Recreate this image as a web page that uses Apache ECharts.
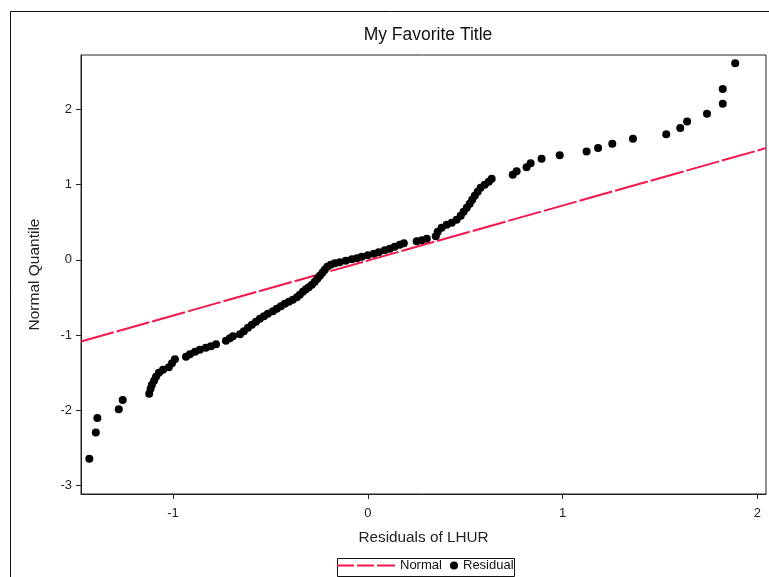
<!DOCTYPE html>
<html>
<head>
<meta charset="utf-8">
<title>My Favorite Title</title>
<script src="https://cdn.jsdelivr.net/npm/echarts@6/dist/echarts.min.js"></script>
<style>
  html, body { margin: 0; padding: 0; background: #fff; }
  #chart { width: 769px; height: 577px; }
</style>
</head>
<body>
<div id="chart"></div>
<script>
// Sorted residuals of LHUR (x) paired with their normal quantiles (y)
const residuals = [
  -1.429, -1.396, -1.388, -1.278, -1.258, -1.122, -1.115, -1.108, -1.097, -1.087,
  -1.072, -1.051, -1.021, -1.005, -0.990, -0.933, -0.913, -0.887, -0.862, -0.831,
  -0.805, -0.779, -0.728, -0.708, -0.692, -0.656, -0.636, -0.615, -0.595, -0.574,
  -0.554, -0.533, -0.513, -0.487, -0.467, -0.446, -0.426, -0.405, -0.385, -0.364,
  -0.349, -0.333, -0.318, -0.303, -0.287, -0.272, -0.259, -0.246, -0.233, -0.221,
  -0.208, -0.190, -0.169, -0.144, -0.113, -0.082, -0.056, -0.031, 0.000, 0.031,
  0.056, 0.087, 0.113, 0.138, 0.164, 0.185, 0.251, 0.277, 0.303, 0.349,
  0.359, 0.379, 0.405, 0.431, 0.456, 0.477, 0.492, 0.508, 0.523, 0.536,
  0.549, 0.564, 0.579, 0.600, 0.621, 0.636, 0.744, 0.764, 0.815, 0.836,
  0.892, 0.985, 1.123, 1.182, 1.255, 1.361, 1.532, 1.604, 1.639, 1.741,
  1.822, 1.822, 1.886
];
const quantiles = [
  -2.643, -2.293, -2.102, -1.983, -1.863, -1.780, -1.713, -1.660, -1.607, -1.554,
  -1.501, -1.461, -1.428, -1.374, -1.321, -1.288, -1.255, -1.222, -1.195, -1.169,
  -1.149, -1.122, -1.076, -1.042, -1.016, -0.989, -0.950, -0.903, -0.863, -0.823,
  -0.784, -0.750, -0.717, -0.684, -0.651, -0.618, -0.584, -0.558, -0.531, -0.498,
  -0.465, -0.425, -0.392, -0.365, -0.332, -0.292, -0.252, -0.212, -0.173, -0.133,
  -0.093, -0.066, -0.046, -0.033, -0.013, 0.007, 0.020, 0.040, 0.060, 0.080,
  0.100, 0.126, 0.146, 0.173, 0.199, 0.219, 0.246, 0.259, 0.279, 0.312,
  0.372, 0.425, 0.465, 0.491, 0.531, 0.584, 0.637, 0.691, 0.744, 0.797,
  0.850, 0.903, 0.956, 0.996, 1.036, 1.076, 1.129, 1.175, 1.228, 1.282,
  1.341, 1.390, 1.438, 1.485, 1.540, 1.607, 1.667, 1.749, 1.837, 1.939,
  2.072, 2.267, 2.612
];

// Fitted normal reference line, end to end across the plot
const normalX = [-1.472, 2.044];
const normalY = [-1.085, 1.483];

// Axis extents and tick positions
const xRange = [-1.472, 2.044];
const yRange = [-3.11, 2.72];
const xTicks = [-1, 0, 1, 2];
const yTicks = [-3, -2, -1, 0, 1, 2];

const FONT = '"Liberation Sans", Arial, sans-serif';
const RED = '#f5164c';
const INK = '#222';

const residualPoints = residuals.map((x, i) => [x, quantiles[i]]);
const normalPoints = normalX.map((x, i) => [x, normalY[i]]);

const chart = echarts.init(document.getElementById('chart'));
chart.setOption({
  animation: false,
  backgroundColor: '#fff',
  textStyle: { fontFamily: FONT },
  title: {
    text: 'My Favorite Title',
    left: 423,
    textAlign: 'center',
    top: 21,
    textStyle: { fontFamily: FONT, fontSize: 17.5, fontWeight: 'normal', color: '#111' }
  },
  grid: {
    left: 81, top: 55, right: 3, bottom: 83,
    show: true, borderColor: INK, borderWidth: 1, backgroundColor: 'transparent'
  },
  xAxis: {
    type: 'value',
    min: xRange[0], max: xRange[1],
    name: 'Residuals of LHUR',
    nameLocation: 'middle',
    nameGap: 36,
    nameTextStyle: { fontFamily: FONT, fontSize: 15.3, color: INK },
    axisLine: { show: true, onZero: false, lineStyle: { color: INK } },
    axisTick: { show: true, length: 5, customValues: xTicks, lineStyle: { color: INK } },
    axisLabel: { customValues: xTicks, margin: 13, fontFamily: FONT, fontSize: 13, color: INK },
    splitLine: { show: false }
  },
  yAxis: {
    type: 'value',
    min: yRange[0], max: yRange[1],
    name: 'Normal Quantile',
    nameLocation: 'middle',
    nameGap: 38,
    nameTextStyle: { fontFamily: FONT, fontSize: 15.5, color: INK },
    axisLine: { show: true, onZero: false, lineStyle: { color: INK } },
    axisTick: { show: true, length: 5, customValues: yTicks, lineStyle: { color: INK } },
    axisLabel: { customValues: yTicks, margin: 9, fontFamily: FONT, fontSize: 13, color: INK },
    splitLine: { show: false }
  },
  legend: [
    {
      data: [{ name: 'Normal', icon: 'path://M0,0h17v2h-17z M20,0h17v2h-17z M40,0h18v2h-18z' }],
      left: 337, top: 559,
      itemWidth: 58, itemHeight: 2,
      padding: 0,
      selectedMode: false,
      textStyle: { fontFamily: FONT, fontSize: 13, color: '#111' }
    },
    {
      data: [{ name: 'Residual', icon: 'circle' }],
      left: 450, top: 559,
      itemWidth: 8, itemHeight: 8,
      padding: 0,
      selectedMode: false,
      textStyle: { fontFamily: FONT, fontSize: 13, color: '#111' }
    }
  ],
  graphic: [
    // outer frame
    { type: 'rect', left: 8, top: 9, shape: { width: 800, height: 600 },
      style: { fill: 'none', stroke: '#111', lineWidth: 1 }, silent: true },
    // legend box
    { type: 'rect', left: 335, top: 556, shape: { width: 177, height: 18 },
      style: { fill: 'none', stroke: '#111', lineWidth: 1 }, silent: true }
  ],
  series: [
    {
      name: 'Normal',
      type: 'line',
      data: normalPoints,
      showSymbol: false,
      symbol: 'none',
      itemStyle: { color: RED },
      lineStyle: { color: RED, width: 2, type: [34, 3] },
      z: 2
    },
    {
      name: 'Residual',
      type: 'scatter',
      data: residualPoints,
      symbol: 'circle',
      symbolSize: 8,
      itemStyle: { color: '#000', opacity: 1 },
      z: 3
    }
  ]
});
</script>
</body>
</html>
